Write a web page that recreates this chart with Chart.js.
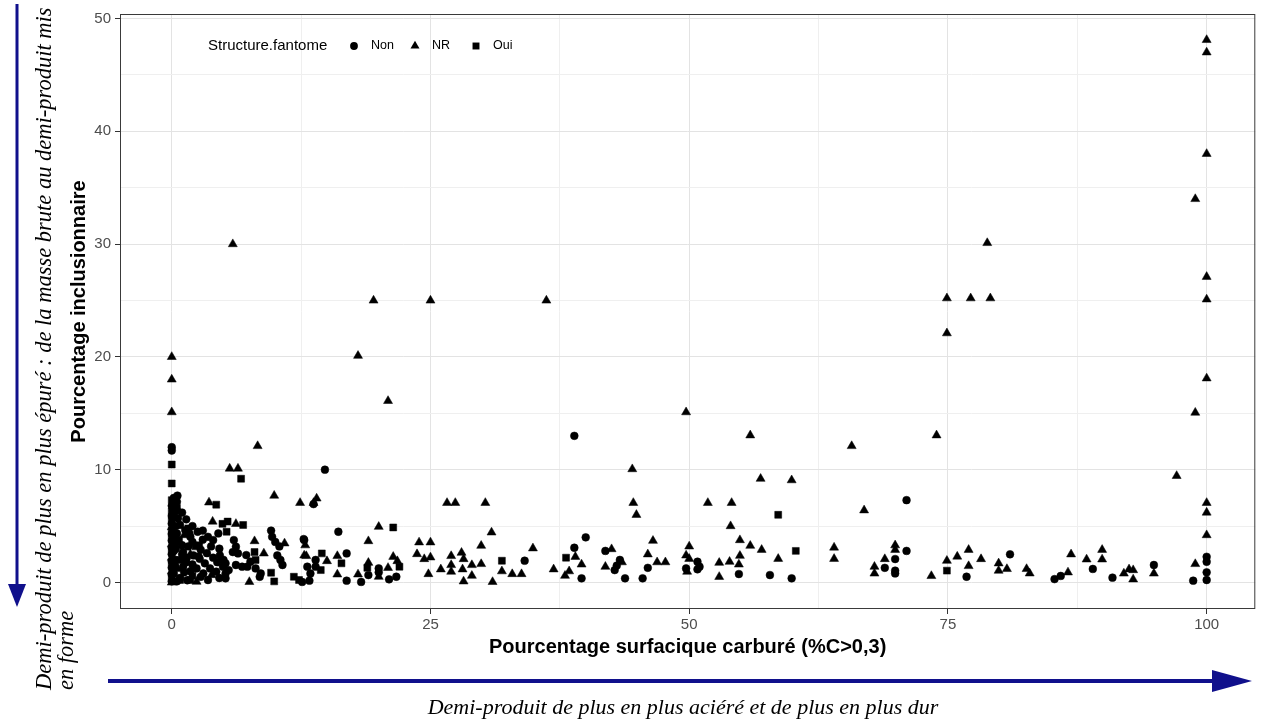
<!DOCTYPE html>
<html>
<head>
<meta charset="utf-8">
<script src="https://cdn.jsdelivr.net/npm/chart.js@4.4.1/dist/chart.umd.min.js"></script>
<style>
  html, body { margin: 0; padding: 0; background: #fff; }
  canvas { display: block; }
</style>
</head>
<body>
<canvas id="chart" width="1261" height="722"></canvas>
<script>
const categories = ['Non', 'NR', 'Oui']

// [Pourcentage surfacique carburé, Pourcentage inclusionnaire]
const nonPoints = [
  [0, 12.0], [0, 11.7], [0, 6.8], [0, 5.9], [0, 5.2], [0, 4.3], [0, 3.7], [0, 3.1], [0, 2.5], [0, 1.9], [0, 1.3], [0, 0.7], [0, 0.1],
  [0.2, 7.5], [0.55, 7.7], [0.5, 7.15], [0.5, 6.4], [0.2, 6.0], [0.6, 5.7], [0.8, 5.1], [0.4, 5.0], [0.5, 4.35], [0.2, 4.0],
  [1.3, 4.65], [1.8, 4.05], [0.3, 3.5], [0.6, 3.6], [1.0, 3.3], [1.6, 3.2], [0.4, 3.0], [0.2, 2.8], [1.1, 2.7], [1.0, 2.5],
  [1.45, 2.2], [2.1, 2.4], [2.6, 2.3], [0.4, 2.0], [1.4, 1.8], [0.3, 1.5], [1.1, 1.4], [1.8, 1.0], [2.4, 1.25], [2.0, 1.6],
  [3.2, 1.7], [0.2, 0.8], [1.2, 0.9], [0.8, 0.4], [1.5, 0.2], [0.5, 0.1],
  [1.0, 6.2], [1.4, 5.6], [2.0, 5.0], [2.5, 4.5], [1.7, 4.35], [3.0, 3.8], [2.0, 3.6], [3.0, 4.6], [3.5, 4.05], [4.0, 3.76],
  [4.5, 4.35], [2.8, 2.9], [3.8, 3.2], [4.6, 3.0], [2.7, 2.1], [3.4, 2.6], [4.0, 2.2], [4.65, 2.4], [5.0, 2.0], [4.4, 1.8],
  [3.05, 0.8], [3.7, 1.25], [4.3, 0.96], [4.95, 1.4], [2.8, 0.5], [3.5, 0.22], [4.6, 0.4],
  [5.2, 1.7], [5.5, 1.1], [6.2, 1.55], [5.2, 0.8], [5.2, 0.37], [6.0, 3.76], [6.2, 3.17], [5.9, 2.7], [6.4, 2.58], [7.2, 2.43],
  [7.6, 1.84], [6.8, 1.4], [7.3, 1.4], [8.1, 1.25], [8.6, 0.8], [8.5, 0.5], [9.6, 4.6], [9.7, 4.05], [10.0, 3.6], [10.4, 3.2],
  [10.2, 2.4], [10.5, 2.0], [10.7, 1.55], [12.8, 3.76],
  [14.8, 10.0], [13.7, 6.95], [16.1, 4.5], [12.75, 3.85], [16.9, 2.58], [13.1, 1.4], [13.9, 2.0], [13.9, 1.4], [13.4, 0.8],
  [13.3, 0.16], [12.6, 0.05], [16.9, 0.16], [18.3, 0.05], [19.0, 0.66], [20.0, 1.25], [20.0, 0.9], [21.0, 0.28], [21.7, 0.51],
  [34.1, 1.93], [38.9, 13.0], [38.9, 3.08], [40.0, 4.0], [39.6, 0.37], [41.9, 2.8], [43.0, 1.5], [43.3, 2.0], [42.8, 1.1],
  [43.8, 0.37], [45.5, 0.37], [46.0, 1.3], [49.7, 1.25], [50.8, 1.84], [51.0, 1.4], [50.8, 1.17], [54.8, 0.75], [57.8, 0.66],
  [59.9, 0.37],
  [71.0, 7.3], [68.9, 1.3], [69.9, 2.08], [69.9, 1.05], [69.9, 0.8], [71.0, 2.8], [76.8, 0.51], [81.0, 2.5], [85.3, 0.3],
  [85.9, 0.58], [89.0, 1.2], [90.9, 0.43], [94.9, 1.55], [98.7, 0.16], [100, 2.28], [100, 1.84], [100, 0.9], [100, 0.22]
]

const nrPoints = [
  [0, 20.0], [0, 18.0], [0, 15.1], [0, 4.9], [0, 3.4], [0, 2.2], [0, 1.0], [0, 0.0],
  [1.2, 4.2], [1.8, 2.5], [0.6, 1.2], [2.4, 0.07], [3.85, 0.66], [3.6, 7.1], [3.95, 5.4],
  [5.9, 30.0], [8.3, 12.1], [5.6, 10.1], [6.4, 10.1], [9.9, 7.7], [6.2, 5.2], [8.0, 3.67], [10.9, 3.47], [8.9, 2.58],
  [7.5, 0.05], [12.8, 2.4],
  [12.4, 7.06], [13.7, 7.06], [14.0, 7.45], [12.9, 3.3], [13.0, 2.35], [15.0, 1.9], [16.0, 2.35], [16.0, 0.72], [18.0, 0.72],
  [19.0, 1.75], [20.0, 0.51], [20.9, 1.3], [21.4, 2.28], [21.8, 1.9],
  [18.0, 20.1], [19.5, 25.0], [20.9, 16.1], [25.0, 25.0], [36.2, 25.0],
  [20.0, 4.94], [19.0, 3.67], [23.9, 3.56], [25.0, 3.56], [23.7, 2.52], [24.4, 2.08], [25.0, 2.23], [27.0, 2.35], [28.0, 2.64],
  [28.2, 2.08], [29.9, 3.26], [34.9, 3.03], [29.9, 1.64], [29.0, 1.55], [26.0, 1.17], [27.0, 1.55], [27.0, 0.96], [28.1, 1.17],
  [24.8, 0.75], [28.2, 0.1], [29.0, 0.6], [31.0, 0.05], [31.9, 1.0], [32.9, 0.75], [33.8, 0.75], [36.9, 1.17], [38.0, 0.6],
  [38.4, 1.0], [39.0, 2.28], [39.6, 1.6],
  [26.6, 7.06], [27.4, 7.06], [30.3, 7.06], [30.9, 4.44],
  [49.7, 15.1], [55.9, 13.05], [65.7, 12.1], [44.5, 10.05], [56.9, 9.2], [59.9, 9.07], [44.6, 7.06], [44.9, 6.0], [51.8, 7.06],
  [54.1, 7.06], [66.9, 6.4], [54.0, 5.0], [46.5, 3.7], [50.0, 3.2], [54.9, 3.76], [55.9, 3.26], [57.0, 2.9], [64.0, 3.1],
  [64.0, 2.1], [42.5, 2.96], [46.0, 2.5], [41.9, 1.4], [43.5, 1.8], [46.9, 1.8], [47.7, 1.8], [49.7, 2.4], [50.0, 2.1],
  [49.8, 0.96], [52.9, 1.75], [52.9, 0.5], [53.9, 1.84], [54.9, 2.37], [54.8, 1.6], [58.6, 2.1], [67.9, 1.4], [67.9, 0.8],
  [73.9, 13.05], [68.9, 2.08], [69.9, 3.3], [69.9, 2.9], [73.4, 0.58], [74.9, 1.93], [75.9, 2.3], [77.0, 2.9], [77.0, 1.46],
  [78.2, 2.08], [79.9, 1.7], [79.9, 1.05], [80.7, 1.2], [82.6, 1.2], [82.9, 0.81], [86.6, 0.9], [86.9, 2.5], [88.4, 2.05],
  [89.9, 2.9], [89.9, 2.05], [92.0, 0.8], [92.5, 1.17], [92.9, 1.1], [92.9, 0.28], [94.9, 0.8],
  [74.9, 25.2], [74.9, 22.1], [77.2, 25.2], [78.8, 30.1], [79.1, 25.2],
  [97.1, 9.45], [98.9, 15.06], [98.9, 1.64], [98.9, 34.0], [100, 48.1], [100, 47.0], [100, 38.0], [100, 27.1], [100, 25.1],
  [100, 18.1], [100, 7.06], [100, 6.2], [100, 4.2]
]

const ouiPoints = [
  [0, 10.46], [0, 8.78], [0, 7.3], [0, 6.3], [0, 5.5], [0, 4.6], [0, 4.0], [0, 2.8], [0, 1.6], [0, 0.4],
  [0.5, 6.6], [1.6, 4.8], [0.7, 3.8], [2.3, 3.2], [0.9, 2.0], [2.0, 0.6], [0.8, 0.22], [1.8, 0.22], [2.65, 3.3], [4.3, 6.9],
  [6.7, 9.2], [5.4, 5.4], [6.9, 5.1], [5.3, 4.5], [4.9, 5.2], [8.0, 2.7], [8.1, 2.0], [9.6, 0.87], [9.9, 0.1], [11.8, 0.51],
  [12.3, 0.22], [14.5, 2.58], [14.4, 1.1], [16.4, 1.7], [18.9, 1.3], [21.4, 4.88], [22.0, 1.4], [31.9, 1.93], [38.1, 2.2],
  [58.6, 6.0], [60.3, 2.8], [74.9, 1.05]
]

const xTicks = [0, 25, 50, 75, 100]
const xTickLabels = ['0', '25', '50', '75', '100']
const xMinorTicks = [12.5, 37.5, 62.5, 87.5]
const yTicks = [0, 10, 20, 30, 40, 50]
const yTickLabels = ['0', '10', '20', '30', '40', '50']
const yMinorTicks = [5, 15, 25, 35, 45]

const pointStyles = ['circle', 'triangle', 'rect']
const pointRadius = [3.9, 5.2, 4.9]
const seriesPoints = [nonPoints, nrPoints, ouiPoints]

const navy = '#10108c'
const serif = '"Liberation Serif", "Times New Roman", serif'

Chart.defaults.font.family = '"Liberation Sans", Arial, sans-serif'

function tickLabel (ticks, labels) {
  return v => {
    const i = ticks.indexOf(v)
    return i >= 0 ? labels[i] : ''
  }
}

function tickObjects (major, minor) {
  return major.concat(minor).sort((a, b) => a - b).map(v => ({ value: v }))
}

function drawMarker (ctx, style, x, y, r) {
  ctx.beginPath()
  if (style === 'circle') {
    ctx.arc(x, y, r, 0, Math.PI * 2)
  } else if (style === 'triangle') {
    ctx.moveTo(x, y - r)
    ctx.lineTo(x + r * 0.866, y + r / 2)
    ctx.lineTo(x - r * 0.866, y + r / 2)
    ctx.closePath()
  } else {
    const s = r * Math.SQRT1_2
    ctx.rect(x - s, y - s, s * 2, s * 2)
  }
  ctx.fill()
}

const annotations = {
  id: 'annotations',
  afterDraw (chart) {
    const { ctx, chartArea: a } = chart
    ctx.save()

    // panel border
    ctx.strokeStyle = '#3a3a3a'
    ctx.lineWidth = 1
    ctx.strokeRect(a.left + 0.5, a.top + 0.5, a.right - a.left - 1, a.bottom - a.top - 1)

    // legend inside the panel
    ctx.fillStyle = '#000'
    ctx.textBaseline = 'middle'
    ctx.textAlign = 'left'
    ctx.font = '15px "Liberation Sans", Arial, sans-serif'
    ctx.fillText('Structure.fantome', 208, 46)
    const markX = [354, 415, 476]
    ctx.font = '12.5px "Liberation Sans", Arial, sans-serif'
    categories.forEach((c, i) => {
      drawMarker(ctx, pointStyles[i], markX[i], 46, pointRadius[i])
      ctx.fillText(c, markX[i] + 17, 46)
    })

    // arrows
    ctx.strokeStyle = navy
    ctx.fillStyle = navy
    ctx.lineWidth = 3
    ctx.beginPath()
    ctx.moveTo(17, 4)
    ctx.lineTo(17, 590)
    ctx.stroke()
    ctx.beginPath()
    ctx.moveTo(8, 584)
    ctx.lineTo(26, 584)
    ctx.lineTo(17, 607)
    ctx.closePath()
    ctx.fill()

    ctx.lineWidth = 4
    ctx.beginPath()
    ctx.moveTo(108, 681)
    ctx.lineTo(1218, 681)
    ctx.stroke()
    ctx.beginPath()
    ctx.moveTo(1212, 670)
    ctx.lineTo(1252, 681)
    ctx.lineTo(1212, 692)
    ctx.closePath()
    ctx.fill()

    // italic captions
    ctx.fillStyle = '#000'
    ctx.font = 'italic 22.5px ' + serif
    ctx.save()
    ctx.translate(45, 690)
    ctx.rotate(-Math.PI / 2)
    ctx.fillText('Demi-produit de plus en plus épuré : de la masse brute au demi-produit mis', 0, 0)
    ctx.fillText('en forme', 0, 22)
    ctx.restore()

    ctx.font = 'italic 22px ' + serif
    ctx.textAlign = 'center'
    ctx.fillText('Demi-produit de plus en plus aciéré et de plus en plus dur', 683, 708)

    ctx.restore()
  }
}

const gridColor = (major) => ctx => major.includes(ctx.tick.value) ? '#e3e3e3' : '#efefef'
const tickColor = (major) => ctx => major.includes(ctx.tick.value) ? '#333' : 'rgba(0,0,0,0)'

new Chart(document.getElementById('chart'), {
  type: 'scatter',
  data: {
    datasets: categories.map((c, i) => ({
      label: c,
      data: seriesPoints[i].map(p => ({ x: p[0], y: p[1] })),
      pointStyle: pointStyles[i],
      pointRadius: pointRadius[i],
      backgroundColor: '#000',
      borderColor: '#000',
      borderWidth: 0.5
    }))
  },
  options: {
    responsive: false,
    devicePixelRatio: 1,
    animation: false,
    layout: { padding: { left: 65, top: 14, right: 2, bottom: 58 } },
    plugins: {
      legend: { display: false },
      tooltip: { enabled: false }
    },
    scales: {
      x: {
        type: 'linear',
        min: -5,
        max: 104.7,
        afterFit: s => { s.height = 55 },
        afterBuildTicks: s => { s.ticks = tickObjects(xTicks, xMinorTicks) },
        border: { display: false },
        grid: { color: gridColor(xTicks), tickColor: tickColor(xTicks), tickLength: 5, lineWidth: 1 },
        ticks: { callback: tickLabel(xTicks, xTickLabels), color: '#4d4d4d', font: { size: 15 }, padding: 2, maxRotation: 0, autoSkip: false },
        title: {
          display: true,
          text: 'Pourcentage surfacique carburé (%C>0,3)',
          color: '#000',
          font: { size: 20, weight: 'bold' },
          padding: { top: 0, bottom: 5 }
        }
      },
      y: {
        type: 'linear',
        min: -2.35,
        max: 50.4,
        afterFit: s => { s.width = 55 },
        afterBuildTicks: s => { s.ticks = tickObjects(yTicks, yMinorTicks) },
        border: { display: false },
        grid: { color: gridColor(yTicks), tickColor: tickColor(yTicks), tickLength: 5, lineWidth: 1 },
        ticks: { callback: tickLabel(yTicks, yTickLabels), color: '#4d4d4d', font: { size: 15 }, padding: 4, autoSkip: false },
        title: {
          display: true,
          text: 'Pourcentage inclusionnaire',
          color: '#000',
          font: { size: 20, weight: 'bold' },
          padding: { top: 2, bottom: 0 }
        }
      }
    }
  },
  plugins: [annotations]
})
</script>
</body>
</html>
